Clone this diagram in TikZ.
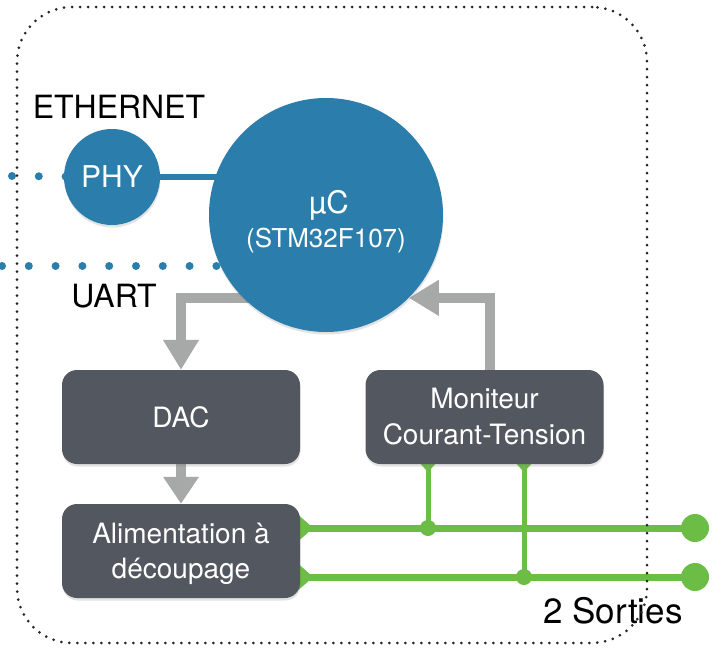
\documentclass[tikz,border=0pt]{standalone}
\usepackage{fontspec}
\setmainfont{TeX Gyre Heros}
\usetikzlibrary{arrows.meta,shadows,calc}
\definecolor{blu}{HTML}{2B7EAB}
\definecolor{boxc}{HTML}{53575F}
\definecolor{gry}{HTML}{A6A9A8}
\definecolor{grn}{HTML}{6CBD45}
\pgfdeclarelayer{bg}
\pgfsetlayers{bg,main}
\begin{document}
\begin{tikzpicture}[x=1pt,y=-1pt,
  softshadow/.style={drop shadow={opacity=0.22,shadow xshift=0.5pt,shadow yshift=-2.5pt}},
  blob/.style={circle,fill=blu,text=white,inner sep=0pt,softshadow},
  blockbox/.style={rounded corners=15pt,fill=boxc,text=white,minimum width=238pt,minimum height=94pt,inner sep=0pt,align=center,font=\fontsize{28}{35.5}\selectfont,softshadow},
  grayarrow/.style={draw=gry,line width=10pt,-{Triangle[width=34pt,length=30pt]}},
  greenline/.style={draw=grn,line width=7pt},
  greenthin/.style={draw=grn,line width=5pt},
  blueline/.style={draw=blu,line width=6pt},
  bluedots/.style={draw=blu,line width=8pt,line cap=round,dash pattern=on 0pt off 26.8pt},
  framebox/.style={draw=black!85,line width=3pt,line cap=round,dash pattern=on 0pt off 8pt,rounded corners=55pt,minimum width=630pt,minimum height=636pt,inner sep=0pt},
  lbl/.style={text=black,inner sep=0pt,font=\fontsize{32}{38}\selectfont},
  outdot/.style={circle,fill=grn,inner sep=0pt,minimum size=28pt},
  jdot/.style={circle,fill=grn,inner sep=0pt,minimum size=16pt}
]
\useasboundingbox (0,0) rectangle (723,653);

% nodes
\node[blob,minimum size=96pt,font=\fontsize{30}{36}\selectfont] (phy) at (112,177) {PHY};
\node[blob,minimum size=234pt] (mcu) at (326,215) {};
\node[text=white,inner sep=0pt,font=\fontsize{31}{36}\selectfont] (mcut) at (329,205) {µC};
\node[text=white,inner sep=0pt,font=\fontsize{26}{30}\selectfont] (mcus) at (326,241) {(STM32F107)};

\node[blockbox] (dac) at (181,417) {DAC};
\node[blockbox,text depth=1pt] (mon) at (484.5,417) {Moniteur\\Courant-Tension};
\node[blockbox,text depth=0pt] (alim) at (181,551) {Alimentation à\\découpage};

\node[lbl] (eth) at (119,107) {ETHERNET};
\node[lbl] (uart) at (114,296) {UART};
\node[lbl,font=\fontsize{35}{40}\selectfont] (sorties) at (613,611) {2 Sorties};

\coordinate (ethend) at (12,176);
\coordinate (uartend) at (2,266);
\node[outdot] (o1) at (695,528) {};
\node[outdot] (o2) at (695,577) {};
\node[jdot] (j1) at (428,528) {};
\node[jdot] (j2) at (524,577) {};

\begin{pgfonlayer}{bg}
  \draw[bluedots] (ethend) -- (phy.center);
  \draw[bluedots] (uartend) -- (uartend -| mcu.center);
  \draw[blueline] (phy.center) -- (phy.center -| mcu.center);
  \draw[grayarrow] ($(mcu.south west)+(12,0)$) -| (dac.north);
  \draw[grayarrow] ([xshift=5pt,yshift=-6pt]mon.north) |- (mcu.south east);
  \draw[grayarrow,-{Triangle[width=34pt,length=27pt]}] (dac.south) -- (alim.north);
  % outputs
  \draw[greenline] (alim.east |- o1) -- (o1.center);
  \draw[greenline] (alim.east |- o2) -- (o2.center);
  \fill[grn] ($(alim.east |- o1)+(-4,-15)$) -- ($(alim.east |- o1)+(13,0)$) -- ($(alim.east |- o1)+(-4,15)$) -- cycle;
  \fill[grn] ($(alim.east |- o2)+(-4,-15)$) -- ($(alim.east |- o2)+(13,0)$) -- ($(alim.east |- o2)+(-4,15)$) -- cycle;
  \draw[greenthin] (mon.south -| j1) -- (j1.center);
  \draw[greenthin] (mon.south -| j2) -- (j2.center);
  \fill[grn] ($(mon.south -| j1)+(-9,-2)$) -- ($(mon.south -| j1)+(0,8)$) -- ($(mon.south -| j1)+(9,-2)$) -- cycle;
  \fill[grn] ($(mon.south -| j2)+(-9,-2)$) -- ($(mon.south -| j2)+(0,8)$) -- ($(mon.south -| j2)+(9,-2)$) -- cycle;
\end{pgfonlayer}

\node[framebox] (frm) at (332,325) {};
\end{tikzpicture}
\end{document}
